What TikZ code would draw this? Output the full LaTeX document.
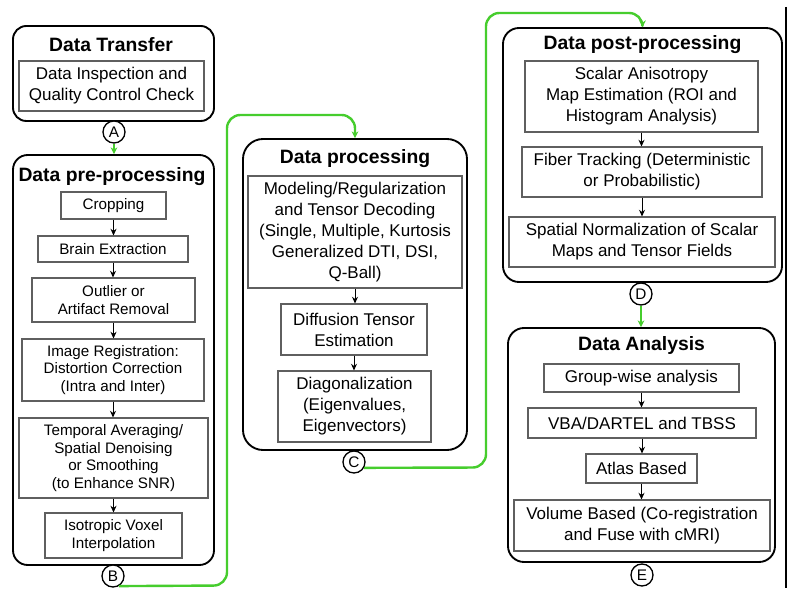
\documentclass[tikz,border=0pt]{standalone}
\usepackage{fontspec}
\setmainfont{Liberation Sans}
\usetikzlibrary{arrows.meta}
\definecolor{flowgreen}{RGB}{70,205,45}
\definecolor{boxgray}{RGB}{95,95,95}
\begin{document}
\begin{tikzpicture}[x=0.75pt,y=-0.75pt,
  outer/.style={draw=black,line width=1.4pt,rounded corners=10pt,inner sep=0pt},
  inbox/.style={draw=boxgray,line width=0.8pt,inner sep=0pt,align=center,font=\fontsize{12.75}{15.75}\selectfont},
  inboxsm/.style={inbox,font=\fontsize{11.4}{13.3}\selectfont},
  ttl/.style={font=\fontsize{14.5}{17}\selectfont\bfseries,inner sep=0pt},
  lbl/.style={circle,draw=black,line width=1pt,fill=white,minimum size=16.5pt,inner sep=0pt,font=\fontsize{11.5}{12}\selectfont},
  flow/.style={draw=black,line width=0.7pt,-{Stealth[length=5pt,width=4.5pt]}},
  gflow/.style={draw=flowgreen,line width=1.8pt,rounded corners=10pt,-{Stealth[length=5pt,width=5pt]}}]
\useasboundingbox (0,0) rectangle (800,598);
\fill[white] (0,0) rectangle (800,598);

% Data Transfer
\node[outer,minimum width=150.75pt,minimum height=71.25pt] (dt) at (113.5,73.5) {};
\node[ttl] (dtt) at (111,45) {Data Transfer};
\node[inbox,minimum width=138.75pt,minimum height=37.5pt] (dtq) at (111.5,86) {Data Inspection and\\Quality Control Check};
\node[lbl] (A) at (114,132) {A};

% Data pre-processing
\node[outer,rounded corners=11pt,minimum width=150.75pt,minimum height=307.5pt] (pre) at (113.5,360) {};
\node[ttl] (pret) at (112,177) {Data pre-processing};
\node[inboxsm,minimum width=78.75pt,minimum height=20.25pt] (crop) at (113.5,205.5) {Cropping};
\node[inboxsm,minimum width=112.5pt,minimum height=19.5pt] (brain) at (113,249) {Brain Extraction};
\node[inboxsm,minimum width=122.25pt,minimum height=33pt] (outl) at (113.5,300) {Outlier or\\Artifact Removal};
\node[inboxsm,minimum width=136.5pt,minimum height=46.5pt] (reg) at (113,370) {Image Registration:\\Distortion Correction\\(Intra and Inter)};
\node[inboxsm,minimum width=141.75pt,minimum height=60pt] (temp) at (113.5,458) {Temporal Averaging/\\Spatial Denoising\\or Smoothing\\(to Enhance SNR)};
\node[inboxsm,minimum width=102.75pt,minimum height=33.75pt] (iso) at (113.5,535.5) {Isotropic Voxel\\Interpolation};
\node[lbl] (B) at (113,576) {B};

% Data processing
\node[outer,rounded corners=15pt,minimum width=168pt,minimum height=233.25pt] (proc) at (355,294.5) {};
\node[ttl] (proct) at (355,159) {Data processing};
\node[inbox,minimum width=160.5pt,minimum height=84pt] (model) at (355,232) {Modeling/Regularization\\and Tensor Decoding\\(Single, Multiple, Kurtosis\\Generalized DTI, DSI,\\Q-Ball)};
\node[inbox,minimum width=109.5pt,minimum height=38.25pt] (diff) at (354,329.5) {Diffusion Tensor\\Estimation};
\node[inbox,minimum width=114.75pt,minimum height=53.25pt] (diag) at (354.5,406.5) {Diagonalization\\(Eigenvalues,\\Eigenvectors)};
\node[lbl] (C) at (354,462) {C};

% Data post-processing
\node[outer,rounded corners=12pt,minimum width=209.25pt,minimum height=190.5pt] (post) at (642.5,155) {};
\node[ttl] (postt) at (642.5,45) {Data post-processing};
\node[inbox,minimum width=174.75pt,minimum height=53.25pt] (scal) at (641.5,96.5) {Scalar Anisotropy\\Map Estimation (ROI and\\Histogram Analysis)};
\node[inbox,minimum width=180pt,minimum height=37.5pt] (fib) at (642,172) {Fiber Tracking (Deterministic\\or Probabilistic)};
\node[inbox,minimum width=199.5pt,minimum height=37.5pt] (spat) at (642,242) {Spatial Normalization of Scalar\\Maps and Tensor Fields};
\node[lbl] (D) at (641,294) {D};

% Data Analysis
\node[outer,rounded corners=12pt,minimum width=200.25pt,minimum height=175.5pt] (ana) at (641.5,445) {};
\node[ttl] (anat) at (641.5,346) {Data Analysis};
\node[inbox,minimum width=146.25pt,minimum height=21pt] (grp) at (641.5,378) {Group-wise analysis};
\node[inbox,minimum width=171pt,minimum height=22.5pt] (vba) at (642,423) {VBA/DARTEL and TBSS};
\node[inbox,minimum width=83.25pt,minimum height=21.75pt] (atl) at (641.5,468.5) {Atlas Based};
\node[inbox,minimum width=192pt,minimum height=38.25pt] (vol) at (642,525.5) {Volume Based (Co-registration\\and Fuse with cMRI)};
\node[lbl] (E) at (642,575) {E};

% black flow arrows
\draw[flow] (crop.south) -- (crop.south |- brain.north);
\draw[flow] (brain.south) -- (brain.south |- outl.north);
\draw[flow] (outl.south) -- (outl.south |- reg.north);
\draw[flow] (reg.south) -- (reg.south |- temp.north);
\draw[flow] (temp.south) -- (temp.south |- iso.north);
\draw[flow] (model.south) -- (model.south |- diff.north);
\draw[flow] (diff.south) -- (diff.south |- diag.north);
\draw[flow] (scal.south) -- (scal.south |- fib.north);
\draw[flow] (fib.south) -- (fib.south |- spat.north);
\draw[flow] (grp.south) -- (grp.south |- vba.north);
\draw[flow] (vba.south) -- (vba.south |- atl.north);
\draw[flow] (atl.south) -- (atl.south |- vol.north);

% green connectors
\draw[gflow] (A.south) -- (A.south |- pre.north);
\draw[gflow] (B.-60) -- (227,585.5) -- (227,115) -- (proc.north |- 0,115) -- (proc.north);
\draw[gflow] (C.-30) -- (486,467.5) -- (486,13) -- (post.north |- 0,13) -- (post.north);
\draw[gflow] (D.south) -- (D.south |- ana.north);

% separator line
\draw[black,line width=1.2pt] (786,7) -- (786,588);
\end{tikzpicture}
\end{document}
